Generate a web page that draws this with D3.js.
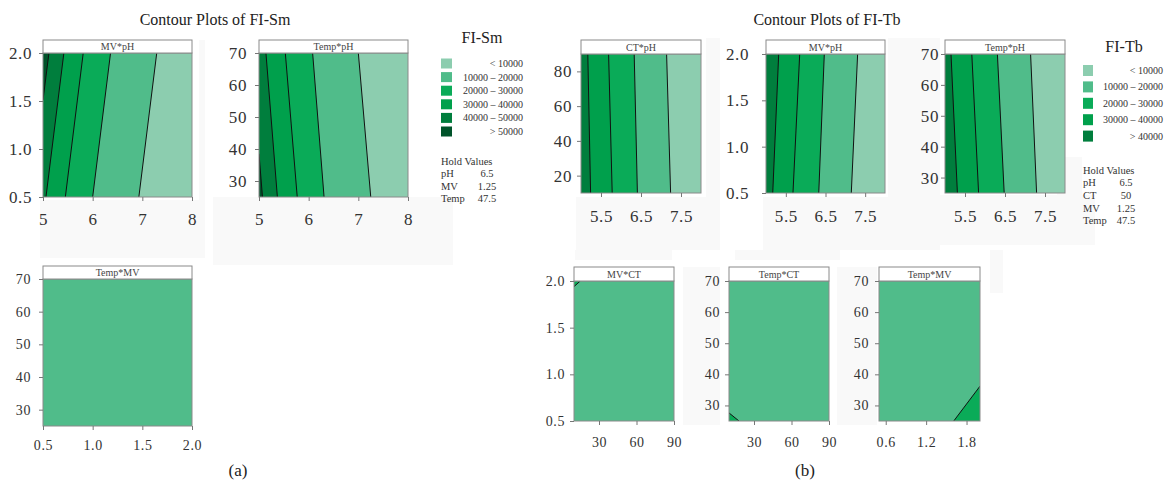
<!DOCTYPE html>
<html>
<head>
<meta charset="utf-8">
<script src="https://cdn.jsdelivr.net/npm/d3@7"></script>
<style>
  body { margin: 0; background: #fff; }
  svg text { font-family: "Liberation Serif", "DejaVu Serif", serif; fill: #333; }
</style>
</head>
<body>
<div id="chart"></div>
<script>
// ---- data ----
const smLevels = ["< 10000", "10000 – 20000", "20000 – 30000", "30000 – 40000", "40000 – 50000", "> 50000"];
const tbLevels = ["< 10000", "10000 – 20000", "20000 – 30000", "30000 – 40000", "> 40000"];
const levelColors = ["#8ccdaf", "#50bc8a", "#0aab58", "#00a04c", "#007e3d", "#00532a"];

const phRange = [5, 8], mvRange = [0.5, 2.0], tempRange = [25, 70], ctRange = [10, 90];
const smPhTicks = [5, 6, 7, 8];
const tbPhTicks = [5.5, 6.5, 7.5];
const mvTicks = [0.5, 1.0, 1.5, 2.0];
const mvTicksX = [0.6, 1.2, 1.8];
const tempTicks = [30, 40, 50, 60, 70];
const ctTicksY = [20, 40, 60, 80];
const ctTicksX = [30, 60, 90];

const smHold = [["pH", "6.5"], ["MV", "1.25"], ["Temp", "47.5"]];
const tbHold = [["pH", "6.5"], ["CT", "50"], ["MV", "1.25"], ["Temp", "47.5"]];

// contour boundaries: [level filled on the corner side, points [x, y], corners to close with]
const smMvPh = [
  [1, [[6.93, 0.5], [7.29, 2.0]], ["tl", "bl"]],
  [2, [[6.00, 0.5], [6.36, 2.0]], ["tl", "bl"]],
  [3, [[5.45, 0.5], [5.81, 2.0]], ["tl", "bl"]],
  [4, [[5.06, 0.5], [5.42, 2.0]], ["tl", "bl"]],
  [5, [[5.00, 1.51], [5.12, 2.0]], ["tl"]]
];
const smTempPh = [
  [1, [[7.25, 25], [7.00, 70]], ["tl", "bl"]],
  [2, [[6.31, 25], [6.08, 70]], ["tl", "bl"]],
  [3, [[5.77, 25], [5.53, 70]], ["tl", "bl"]],
  [4, [[5.37, 25], [5.14, 70]], ["tl", "bl"]],
  [5, [[5.07, 25], [5.00, 38.5]], ["bl"]]
];
const smTempMv = [];
const tbCtPh = [
  [1, [[7.24, 10], [7.14, 90]], ["tl", "bl"]],
  [2, [[6.41, 10], [6.33, 90]], ["tl", "bl"]],
  [3, [[5.78, 10], [5.69, 90]], ["tl", "bl"]],
  [4, [[5.24, 10], [5.17, 90]], ["tl", "bl"]]
];
const tbMvPh = [
  [1, [[7.15, 0.5], [7.31, 2.0]], ["tl", "bl"]],
  [2, [[6.33, 0.5], [6.47, 2.0]], ["tl", "bl"]],
  [3, [[5.68, 0.5], [5.85, 2.0]], ["tl", "bl"]],
  [4, [[5.17, 0.5], [5.32, 2.0]], ["tl", "bl"]]
];
const tbTempPh = [
  [1, [[7.29, 25], [7.14, 70]], ["tl", "bl"]],
  [2, [[6.48, 25], [6.31, 70]], ["tl", "bl"]],
  [3, [[5.84, 25], [5.67, 70]], ["tl", "bl"]],
  [4, [[5.31, 25], [5.15, 70]], ["tl", "bl"]]
];
const tbMvCt = [[2, [[10, 1.94], [15, 2.0]], ["tl"]]];
const tbTempCt = [[2, [[10, 27.6], [18, 25]], ["bl"]]];
const tbTempMv = [[2, [[1.61, 25], [2.0, 36.2]], ["br"]]];

// ---- layout ----
const panels = [
  { name: "MV*pH",   xd: phRange,   yd: mvRange,   xt: smPhTicks, yt: mvTicks,   base: 0, lines: smMvPh,   left: 43,  top: 53,  w: 149, h: 144, strip: 13, fs: 17, xpad: 12, ypad: 7,  yfmt: ".1f" },
  { name: "Temp*pH", xd: phRange,   yd: tempRange, xt: smPhTicks, yt: tempTicks, base: 0, lines: smTempPh, left: 259, top: 53,  w: 149, h: 144, strip: 13, fs: 17, xpad: 12, ypad: 8,  yfmt: "d" },
  { name: "Temp*MV", xd: mvRange,   yd: tempRange, xt: mvTicks,   yt: tempTicks, base: 1, lines: smTempMv, left: 43,  top: 279, w: 149, h: 147, strip: 13, fs: 14, xpad: 10, ypad: 8,  yfmt: "d", xfmt: ".1f" },
  { name: "CT*pH",   xd: phRange,   yd: ctRange,   xt: tbPhTicks, yt: ctTicksY,  base: 0, lines: tbCtPh,   left: 581, top: 54,  w: 120, h: 139, strip: 14, fs: 17, xpad: 13, ypad: 5,  yfmt: "d", xfmt: ".1f" },
  { name: "MV*pH",   xd: phRange,   yd: mvRange,   xt: tbPhTicks, yt: mvTicks,   base: 0, lines: tbMvPh,   left: 766, top: 54,  w: 119, h: 139, strip: 14, fs: 17, xpad: 13, ypad: 13, yfmt: ".1f", xfmt: ".1f" },
  { name: "Temp*pH", xd: phRange,   yd: tempRange, xt: tbPhTicks, yt: tempTicks, base: 0, lines: tbTempPh, left: 945, top: 54,  w: 120, h: 139, strip: 14, fs: 17, xpad: 13, ypad: 2,  yfmt: "d", xfmt: ".1f" },
  { name: "MV*CT",   xd: ctRange,   yd: mvRange,   xt: ctTicksX,  yt: mvTicks,   base: 1, lines: tbMvCt,   left: 574, top: 281, w: 100, h: 140, strip: 14, fs: 14, xpad: 12, ypad: 5,  yfmt: ".1f" },
  { name: "Temp*CT", xd: ctRange,   yd: tempRange, xt: ctTicksX,  yt: tempTicks, base: 1, lines: tbTempCt, left: 729, top: 281, w: 100, h: 140, strip: 14, fs: 14, xpad: 12, ypad: 5,  yfmt: "d" },
  { name: "Temp*MV", xd: mvRange,   yd: tempRange, xt: mvTicksX,  yt: tempTicks, base: 1, lines: tbTempMv, left: 879, top: 281, w: 101, h: 140, strip: 14, fs: 14, xpad: 12, ypad: 6,  yfmt: "d", xfmt: ".1f" }
];

// faint grey patches left over around the panels in the original figure
const patches = [
  [40, 200, 165, 58], [213, 197, 240, 68], [199, 40, 6, 160],
  [576, 197, 130, 53], [706, 38, 14, 212], [763, 197, 177, 53], [888, 38, 52, 160],
  [940, 195, 155, 50], [1057, 157, 25, 88],
  [575, 250, 97, 10], [735, 250, 105, 10], [683, 267, 37, 158], [837, 267, 40, 158], [990, 250, 13, 43]
];

const W = 1164, H = 489;
const svg = d3.select("#chart").append("svg").attr("width", W).attr("height", H);

svg.selectAll("rect.patch").data(patches).enter().append("rect")
  .attr("class", "patch")
  .attr("x", d => d[0]).attr("y", d => d[1]).attr("width", d => d[2]).attr("height", d => d[3])
  .attr("fill", "#f9f9f9");

panels.forEach((p, i) => {
  const x = d3.scaleLinear().domain(p.xd).range([p.left, p.left + p.w]);
  const y = d3.scaleLinear().domain(p.yd).range([p.top + p.h, p.top]);
  const corner = {
    tl: [p.xd[0], p.yd[1]], bl: [p.xd[0], p.yd[0]],
    tr: [p.xd[1], p.yd[1]], br: [p.xd[1], p.yd[0]]
  };
  const line = d3.line().x(d => x(d[0])).y(d => y(d[1]));

  const g = svg.append("g");
  g.append("clipPath").attr("id", "clip" + i)
    .append("rect").attr("x", p.left).attr("y", p.top).attr("width", p.w).attr("height", p.h);

  const area = g.append("g").attr("clip-path", `url(#clip${i})`);
  area.append("rect")
    .attr("x", p.left).attr("y", p.top).attr("width", p.w).attr("height", p.h)
    .attr("fill", levelColors[p.base]);

  p.lines.forEach(([lv, pts, cs]) => {
    const poly = pts.concat(cs.map(c => corner[c]));
    area.append("path").attr("d", line(poly) + "Z").attr("fill", levelColors[lv]);
  });
  p.lines.forEach(([lv, pts]) => {
    area.append("path").attr("d", line(pts))
      .attr("fill", "none").attr("stroke", "#111").attr("stroke-width", 1);
  });

  // frame
  g.append("rect")
    .attr("x", p.left).attr("y", p.top).attr("width", p.w).attr("height", p.h)
    .attr("fill", "none").attr("stroke", "#8a8a8a").attr("stroke-width", 1);

  // strip
  g.append("rect")
    .attr("x", p.left).attr("y", p.top - p.strip).attr("width", p.w).attr("height", p.strip)
    .attr("fill", "#fff").attr("stroke", "#8a8a8a").attr("stroke-width", 1);
  g.append("text")
    .attr("x", p.left + p.w / 2).attr("y", p.top - p.strip / 2 + 3.5)
    .attr("text-anchor", "middle").style("font-size", "10px").style("fill", "#444")
    .text(p.name);

  // axes
  const ax = g.append("g").attr("transform", `translate(0,${p.top + p.h})`)
    .call(d3.axisBottom(x).tickValues(p.xt).tickSize(4).tickPadding(p.xpad)
      .tickFormat(p.xfmt ? d3.format(p.xfmt) : d3.format("d")));
  const ay = g.append("g").attr("transform", `translate(${p.left},0)`)
    .call(d3.axisLeft(y).tickValues(p.yt).tickSize(4).tickPadding(p.ypad)
      .tickFormat(d3.format(p.yfmt)));
  [ax, ay].forEach(a => {
    a.select(".domain").remove();
    a.selectAll("line").attr("stroke", "#777");
    a.selectAll("text").style("font-size", p.fs + "px")
      .style("font-family", '"Liberation Serif", serif')
      .style("letter-spacing", "0.6px").attr("fill", "#333");
  });
});

// titles
svg.append("text").attr("x", 215).attr("y", 25).attr("text-anchor", "middle")
  .style("font-size", "16px").style("fill", "#222").text("Contour Plots of FI-Sm");
svg.append("text").attr("x", 827).attr("y", 25).attr("text-anchor", "middle")
  .style("font-size", "16px").style("fill", "#222").text("Contour Plots of FI-Tb");

// legends
function legend(title, levels, hold, o) {
  const g = svg.append("g");
  g.append("text").attr("x", o.tx).attr("y", o.ty).attr("text-anchor", "middle")
    .style("font-size", "16px").style("fill", "#222").text(title);
  levels.forEach((lab, k) => {
    g.append("rect").attr("x", o.sx).attr("y", o.sy + k * o.step)
      .attr("width", o.sw).attr("height", o.sh).attr("fill", levelColors[k]);
    g.append("text").attr("x", o.lx).attr("y", o.sy + k * o.step + o.sh / 2 + 3.5)
      .attr("text-anchor", "end").style("font-size", "10px").text(lab);
  });
  g.append("text").attr("x", o.sx).attr("y", o.hy).style("font-size", "10.5px").text("Hold Values");
  hold.forEach(([k, v], j) => {
    g.append("text").attr("x", o.sx).attr("y", o.hy + (j + 1) * o.hstep)
      .style("font-size", "10.5px").text(k);
    g.append("text").attr("x", o.vx).attr("y", o.hy + (j + 1) * o.hstep)
      .attr("text-anchor", "middle").style("font-size", "10.5px").text(v);
  });
}
legend("FI-Sm", smLevels, smHold, { tx: 482, ty: 43, sx: 441, sy: 58.5, sw: 11, sh: 10, step: 13.6, lx: 523, hy: 164.5, hstep: 12.5, vx: 487 });
legend("FI-Tb", tbLevels, tbHold, { tx: 1124, ty: 52, sx: 1083, sy: 65, sw: 10, sh: 11, step: 16.4, lx: 1163, hy: 173.5, hstep: 12.7, vx: 1126 });

// sub-figure labels
svg.append("text").attr("x", 238).attr("y", 476).attr("text-anchor", "middle")
  .style("font-size", "17px").style("fill", "#222").text("(a)");
svg.append("text").attr("x", 805).attr("y", 476).attr("text-anchor", "middle")
  .style("font-size", "17px").style("fill", "#222").text("(b)");
</script>
</body>
</html>
